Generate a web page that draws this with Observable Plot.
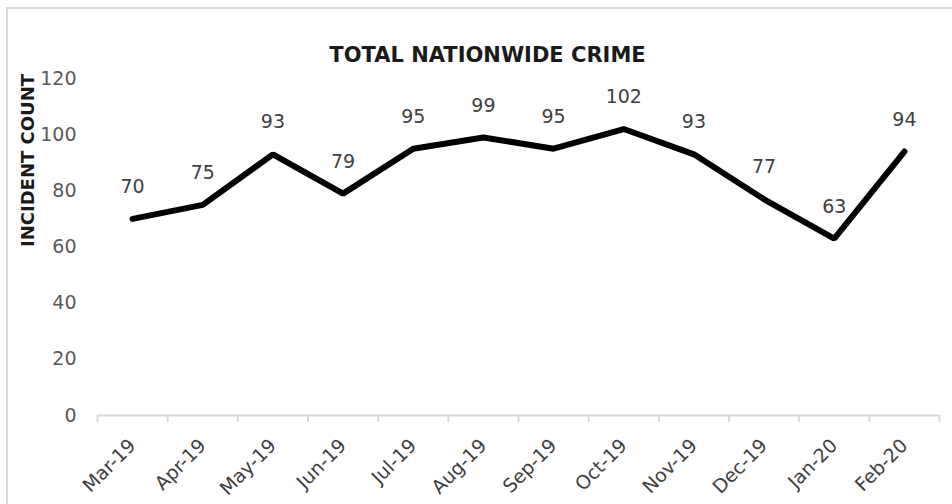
<!DOCTYPE html>
<html>
<head>
<meta charset="utf-8">
<script src="https://cdn.jsdelivr.net/npm/d3@7"></script>
<script src="https://cdn.jsdelivr.net/npm/@observablehq/plot@0.6"></script>
<style>
  html, body { margin: 0; padding: 0; background: #fff; }
  #wrap { position: relative; width: 952px; height: 504px; overflow: hidden; }
  #border { position: absolute; left: 6px; top: 7px; width: 960px; height: 520px; border: 2px solid #d9d9d9; box-sizing: border-box; }
  #chart { position: absolute; left: 0; top: 0; }
</style>
</head>
<body>
<div id="wrap"><div id="border"></div><div id="chart"></div></div>
<script>
const months = ["Mar-19","Apr-19","May-19","Jun-19","Jul-19","Aug-19","Sep-19","Oct-19","Nov-19","Dec-19","Jan-20","Feb-20"];
const counts = [70, 75, 93, 79, 95, 99, 95, 102, 93, 77, 63, 94];
const yTicks = [0, 20, 40, 60, 80, 100, 120];
const title = "TOTAL NATIONWIDE CRIME";
const yLabel = "INCIDENT COUNT";

const data = months.map((m, i) => ({month: m, i, pos: i + 0.5, value: counts[i]}));
const edges = d3.range(months.length + 1);
const font = "'DejaVu Sans', sans-serif";

const chart = Plot.plot({
  width: 952,
  height: 504,
  marginLeft: 97,
  marginRight: 13,
  marginTop: 78,
  marginBottom: 89,
  style: {fontFamily: font, background: "transparent"},
  x: {type: "linear", domain: [0, months.length]},
  y: {domain: [0, 120]},
  marks: [
    Plot.axisY({ticks: yTicks, tickSize: 0, tickPadding: 21, label: null, fontSize: 19, fill: "#595959"}),
    Plot.axisX({ticks: edges, tickSize: 7, tickFormat: () => "", label: null, stroke: "#d9d9d9", strokeWidth: 2}),
    Plot.ruleY([0], {stroke: "#d9d9d9", strokeWidth: 2}),
    Plot.text(data, {x: "pos", y: 0, text: "month", rotate: -45, textAnchor: "end", dx: 0, dy: 27, fontSize: 19, fill: "#404040"}),
    Plot.line(data, {x: "pos", y: "value", stroke: "#000", strokeWidth: 6, strokeLinejoin: "miter", strokeLinecap: "round"}),
    Plot.text(data, {x: "pos", y: "value", text: d => String(d.value), dy: -32, fontSize: 19, fill: "#404040"}),
    Plot.text([title], {frameAnchor: "top", dy: -31, dx: -31, fontSize: 21, fontWeight: "bold", fill: "#1a1a1a"}),
    Plot.text([yLabel], {frameAnchor: "left", dx: -69.5, rotate: -90, fontSize: 18, fontWeight: "bold", fill: "#1a1a1a"})
  ]
});
document.getElementById("chart").appendChild(chart);
</script>
</body>
</html>
